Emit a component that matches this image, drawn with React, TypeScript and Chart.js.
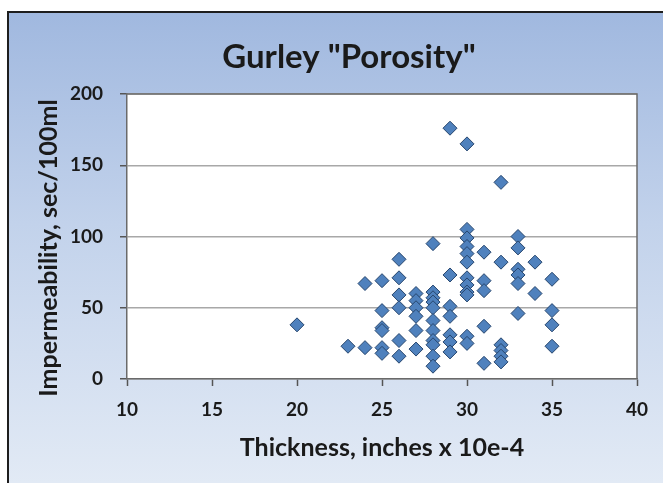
import React, { useEffect, useRef } from "react";
import { Chart, registerables } from "chart.js";

Chart.register(...registerables);

const chartTitle = 'Gurley "Porosity"';
const xAxisTitle = "Thickness, inches x 10e-4";
const yAxisTitle = "Impermeability, sec/100ml";

// thickness (x) groups and the impermeability (y) readings for each
const thickness = [20, 23, 24, 25, 26, 27, 28, 29, 30, 31, 32, 33, 34, 35];
const impermeability = [
  [38],
  [23],
  [67, 22],
  [69, 48, 36, 34, 22, 18],
  [84, 71, 59, 50, 27, 16],
  [60, 55, 50, 44, 34, 21],
  [95, 61, 57, 54, 50, 41, 34, 27, 24, 16, 9],
  [176, 73, 51, 44, 31, 26, 19],
  [165, 105, 99, 93, 88, 82, 71, 66, 61, 59, 30, 25],
  [89, 69, 62, 37, 11],
  [138, 82, 24, 20, 16, 12],
  [100, 92, 77, 73, 67, 46],
  [82, 60],
  [70, 48, 38, 23],
];

const xMin = 10, xMax = 40, xStep = 5;
const yMin = 0, yMax = 200, yStep = 50;

const FONT = "Lato";

export default function App() {
  const ref = useRef<HTMLCanvasElement | null>(null);

  useEffect(() => {
    const canvas = ref.current;
    if (!canvas) return;
    const points: { x: number; y: number }[] = [];
    thickness.forEach((t, i) => {
      impermeability[i].forEach((v) => points.push({ x: t, y: v }));
    });

    const bgPlugin = {
      id: "bg",
      beforeDraw(chart: any) {
        const { ctx, width, height, chartArea } = chart;
        ctx.save();
        ctx.fillStyle = "#ffffff";
        ctx.fillRect(0, 0, width, height);
        const g = ctx.createLinearGradient(0, 11, 0, height);
        g.addColorStop(0, "#A0B8DF");
        g.addColorStop(0.45, "#C2D2EB");
        g.addColorStop(1, "#E2EAF5");
        ctx.fillStyle = g;
        ctx.fillRect(7, 11, width - 7, height - 11);
        ctx.fillStyle = "#1e1e1e";
        ctx.fillRect(7, 11, width - 7, 2);
        ctx.fillRect(7, 11, 2, height - 11);
        ctx.fillStyle = "#ffffff";
        ctx.fillRect(chartArea.left, chartArea.top, chartArea.right - chartArea.left, chartArea.bottom - chartArea.top);
        ctx.restore();
      },
      beforeDatasetsDraw(chart: any) {
        const { ctx, chartArea } = chart;
        ctx.save();
        ctx.strokeStyle = "#6a6a6a";
        ctx.lineWidth = 1.5;
        ctx.beginPath();
        ctx.moveTo(chartArea.left, chartArea.top);
        ctx.lineTo(chartArea.right, chartArea.top);
        ctx.lineTo(chartArea.right, chartArea.bottom);
        ctx.stroke();
        ctx.restore();
      },
      afterDraw(chart: any) {
        const { ctx } = chart;
        ctx.save();
        ctx.font = `bold 33px ${FONT}`;
        ctx.fillStyle = "#1a1a1a";
        ctx.textAlign = "center";
        ctx.textBaseline = "alphabetic";
        ctx.fillText(chartTitle, 349, 68);
        ctx.restore();
        // y axis title
        ctx.save();
        ctx.font = `bold 25px ${FONT}`;
        ctx.fillStyle = "#1a1a1a";
        ctx.textAlign = "center";
        ctx.textBaseline = "middle";
        ctx.translate(49, 248);
        ctx.rotate(-Math.PI / 2);
        ctx.fillText(yAxisTitle, 0, 0);
        ctx.restore();
      },
    };

    const chart = new Chart(canvas, {
      type: "scatter",
      data: {
        datasets: [
          {
            label: "Impermeability",
            data: points,
            pointStyle: "rectRot",
            pointRadius: 7,
            pointHoverRadius: 7,
            backgroundColor: "#4F81BD",
            borderColor: "#27466E",
            borderWidth: 1,
          },
        ],
      },
      options: {
        responsive: false,
        animation: false,
        devicePixelRatio: 1,
        layout: { padding: { left: 8, right: 26, top: 94, bottom: 10 } },
        plugins: {
          legend: { display: false },
          title: { display: false },
          tooltip: { enabled: false },
        },
        scales: {
          x: {
            type: "linear",
            min: xMin,
            max: xMax,
            afterFit: (s: any) => { s.height = 94; },
            ticks: {
              stepSize: xStep,
              color: "#1a1a1a",
              font: { family: FONT, size: 19, weight: "bold" },
              padding: 12,
              maxRotation: 0,
            },
            grid: {
              drawOnChartArea: false,
              drawTicks: true,
              tickLength: 7,
              tickColor: "#555555",
              tickWidth: 1.5,
            },
            border: { color: "#6a6a6a", width: 1.5 },
            title: {
              display: true,
              text: xAxisTitle,
              color: "#1a1a1a",
              font: { family: FONT, size: 25, weight: "bold" },
              padding: { top: 0, bottom: 10 },
            },
          },
          y: {
            type: "linear",
            min: yMin,
            max: yMax,
            afterFit: (s: any) => { s.width = 119; },
            ticks: {
              stepSize: yStep,
              color: "#1a1a1a",
              font: { family: FONT, size: 19, weight: "bold" },
              padding: 17,
            },
            grid: {
              color: "#a8a8a8",
              lineWidth: 1.5,
              drawTicks: true,
              tickLength: 7,
              tickColor: "#555555",
              tickWidth: 1.5,
            },
            border: { color: "#6a6a6a", width: 1.5 },
            title: { display: false, text: yAxisTitle },
          },
        },
      },
      plugins: [bgPlugin],
    });
    return () => chart.destroy();
  }, []);

  return (
    <div style={{ position: "fixed", left: 0, top: 0, width: 663, height: 483 }}>
      <canvas ref={ref} width={663} height={483} style={{ width: 663, height: 483, display: "block" }} />
    </div>
  );
}
